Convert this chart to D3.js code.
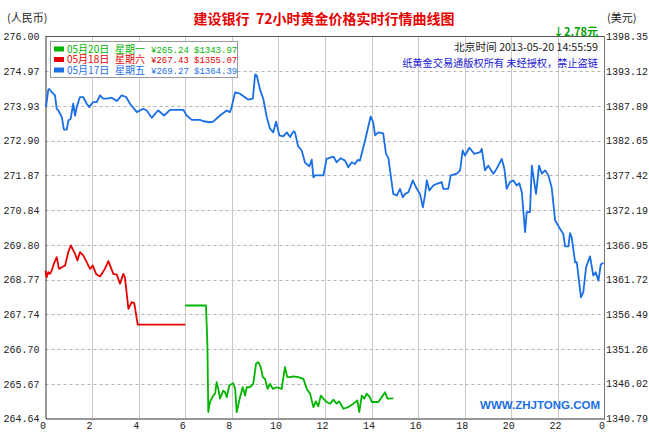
<!DOCTYPE html>
<html><head><meta charset="utf-8">
<script src="https://cdn.jsdelivr.net/npm/d3@7"></script>
<style>body{margin:0;background:#fff}svg{display:block}</style>
</head><body>
<svg id="c" width="649" height="434"></svg>
<script>
const leftTicks = [264.64,265.67,266.70,267.74,268.77,269.80,270.84,271.87,272.90,273.93,274.97,276.00];
const rightTicks = [1340.79,1346.02,1351.26,1356.49,1361.72,1366.95,1372.19,1377.42,1382.65,1387.89,1393.12,1398.35];
const hourTicks = [0,2,4,6,8,10,12,14,16,18,20,22,24];

const seriesDates = ["05月20日","05月18日","05月17日"];
const seriesDays = ["星期一","星期六","星期五"];
const seriesCny = [265.24,267.43,269.27];
const seriesUsd = [1343.97,1355.07,1364.39];
const seriesColors = ["#00b400","#e60000","#1a6ee6"];

const blueHours = [0.02,0.12,0.16,0.33,0.41,0.48,0.55,0.70,0.79,0.91,0.98,1.08,1.19,1.27,1.34,1.48,1.62,1.77,1.88,1.98,2.05,2.20,2.34,2.48,2.63,2.84,3.06,3.27,3.46,3.63,3.92,4.20,4.35,4.56,4.70,4.84,5.09,5.35,5.92,6.06,6.28,6.63,6.78,7.06,7.20,7.49,7.78,7.92,7.99,8.14,8.35,8.71,8.90,9.00,9.07,9.21,9.35,9.50,9.64,9.78,9.90,10.04,10.21,10.36,10.50,10.64,10.71,10.85,11.00,11.14,11.33,11.43,11.50,11.57,11.93,12.07,12.36,12.50,12.67,12.86,13.00,13.15,13.29,13.40,13.50,13.72,13.96,14.07,14.15,14.29,14.50,14.62,14.72,14.93,15.08,15.22,15.34,15.44,15.58,15.77,15.94,16.08,16.20,16.29,16.37,16.48,16.65,16.80,17.01,17.08,17.29,17.40,17.66,17.80,17.91,18.01,18.20,18.41,18.66,18.73,18.87,19.01,19.23,19.37,19.59,19.70,19.80,19.94,20.09,20.23,20.34,20.45,20.59,20.66,20.80,20.88,21.06,21.19,21.31,21.45,21.59,21.73,21.88,22.09,22.23,22.31,22.45,22.52,22.59,22.74,22.81,22.99,23.09,23.21,23.38,23.52,23.62,23.74,23.84,23.96];
const blueValues = [273.90,274.42,274.44,274.30,274.25,273.85,273.80,273.60,273.23,273.23,273.50,273.55,274.00,273.65,273.90,274.20,274.20,274.00,273.90,274.00,274.05,274.05,274.25,274.15,274.15,274.18,274.08,274.25,274.20,274.00,273.75,273.85,273.80,273.58,273.70,273.80,273.65,273.82,273.82,273.65,273.52,273.52,273.48,273.45,273.47,273.65,273.80,273.75,273.90,274.34,274.30,274.12,274.15,274.87,274.84,274.42,274.15,273.60,273.26,273.15,273.47,273.06,273.03,273.15,273.01,273.18,273.15,272.73,272.61,272.25,272.14,272.34,271.81,271.87,271.87,272.36,272.43,272.26,272.38,272.31,272.11,272.26,272.21,272.33,272.31,272.91,273.62,273.45,273.06,273.15,273.12,272.51,272.39,271.32,271.27,271.47,271.22,271.32,271.37,271.72,271.47,271.32,270.92,271.27,271.72,271.42,271.57,271.62,271.67,271.47,271.47,271.87,271.92,272.02,272.61,272.46,272.69,272.51,272.56,272.66,272.02,272.16,271.92,272.07,272.36,272.07,271.47,271.67,271.72,271.57,271.64,271.37,270.18,270.78,270.78,272.16,271.32,272.16,271.92,272.02,271.87,271.52,270.53,270.28,270.13,269.76,269.76,270.15,270.03,269.28,269.29,268.24,268.40,269.14,269.46,268.89,268.99,268.74,269.22,269.27];

const redHours = [0.00,0.05,0.12,0.19,0.27,0.36,0.48,0.58,0.70,0.84,0.98,1.09,1.19,1.27,1.37,1.48,1.62,1.77,1.91,2.03,2.17,2.34,2.55,2.70,2.80,2.91,3.06,3.20,3.34,3.41,3.56,3.70,3.81,3.96,6.00];
const redValues = [269.04,268.84,268.99,268.94,269.04,269.24,269.44,269.09,269.14,269.19,269.59,269.79,269.64,269.54,269.34,269.59,269.49,269.29,269.09,269.19,268.94,268.86,269.09,269.32,269.14,268.94,268.92,268.65,268.94,268.84,267.90,268.10,268.07,267.43,267.43];

const greenHours = [6.00,6.89,6.95,6.99,7.06,7.20,7.28,7.35,7.42,7.49,7.63,7.71,7.78,7.89,8.06,8.14,8.21,8.35,8.47,8.57,8.64,8.78,8.92,9.04,9.14,9.24,9.33,9.42,9.54,9.64,9.76,9.93,10.14,10.28,10.38,10.50,10.64,10.85,11.07,11.22,11.36,11.50,11.61,11.71,11.82,11.93,12.07,12.22,12.36,12.50,12.61,12.79,13.00,13.22,13.39,13.47,13.58,13.69,13.79,13.93,14.01,14.29,14.48,14.58,14.68,14.93];
const greenValues = [268.00,268.00,266.86,264.83,265.13,265.32,265.38,265.72,265.52,265.23,265.47,265.42,265.27,265.62,265.69,265.52,264.83,265.27,265.57,265.32,265.57,265.57,265.67,266.27,266.32,266.17,265.87,265.82,265.52,265.67,265.52,265.57,265.52,266.17,265.87,265.87,265.89,265.87,265.82,265.52,265.38,264.98,265.15,265.00,265.32,265.23,265.13,265.08,265.20,265.08,265.15,264.93,264.98,265.08,265.18,264.83,265.32,265.23,265.38,265.27,265.13,265.13,265.32,265.42,265.23,265.24];

const titleText = "建设银行  72小时黄金价格实时行情曲线图";
const changeText = "↓2.78元";
const timeText = "北京时间 2013-05-20 14:55:59";
const copyText = "纸黄金交易通版权所有 未经授权，禁止盗链";
const siteText = "WWW.ZHJTONG.COM";

const svg = d3.select("#c");
const L = 45.5, R = 604.5, T = 36.5, B = 418.5;
const x = d3.scaleLinear().domain([0,24]).range([L,R]);
const y = d3.scaleLinear().domain([264.64,276.00]).range([B,T]);
const y2 = d3.scaleLinear().domain([1340.79,1398.35]).range([B,T]);
const cjk = "'Noto Sans CJK SC', sans-serif";
const mono = "'Liberation Mono', 'DejaVu Sans Mono', monospace";

svg.append("rect").attr("width",649).attr("height",434).attr("fill","#fff");

// horizontal dashed grid
svg.append("g").selectAll("line").data(leftTicks.slice(1,-1)).join("line")
  .attr("x1",L).attr("x2",R).attr("y1",d=>Math.round(y(d))+0.5).attr("y2",d=>Math.round(y(d))+0.5)
  .attr("stroke","#b4b4b4").attr("stroke-dasharray","3,3");
// vertical grid
svg.append("g").selectAll("line").data(hourTicks.slice(1,-1)).join("line")
  .attr("x1",d=>Math.round(x(d))+0.5).attr("x2",d=>Math.round(x(d))+0.5).attr("y1",T).attr("y2",B)
  .attr("stroke","#c8c8c8");

// frame
svg.append("line").attr("x1",L).attr("x2",R).attr("y1",T).attr("y2",T).attr("stroke","#555");
svg.append("line").attr("x1",R).attr("x2",R).attr("y1",T).attr("y2",B).attr("stroke","#777");

// axes
const axL = svg.append("g").attr("transform",`translate(${L},0)`)
  .call(d3.axisLeft(y).tickValues(leftTicks).tickFormat(d3.format(".2f")).tickSize(0).tickPadding(6));
const axR = svg.append("g").attr("transform",`translate(${R},0)`)
  .call(d3.axisRight(y2).tickValues(rightTicks).tickFormat(d3.format(".2f")).tickSize(0).tickPadding(1.5));
const axB = svg.append("g").attr("transform",`translate(0,${B})`)
  .call(d3.axisBottom(x).tickValues(hourTicks).tickFormat(d=>d%24).tickSize(0).tickPadding(3));
axR.select(".domain").remove();
axL.select(".domain").attr("stroke","#333");
axB.select(".domain").attr("stroke","#333");
[axL,axR,axB].forEach(a=>a.selectAll("text").attr("font-family",mono).attr("font-size","10px").attr("fill","#222"));
axB.selectAll("text").attr("dx","-3");

// series
const line = d3.line().x(d=>x(d[0])).y(d=>y(d[1]));
const series = [[greenHours,greenValues],[redHours,redValues],[blueHours,blueValues]];
series.forEach((s,i)=>{
  svg.append("path").datum(d3.zip(s[0],s[1])).attr("d",line)
    .attr("fill","none").attr("stroke",seriesColors[i]).attr("stroke-width",1.8)
    .attr("stroke-linejoin","round");
});

// legend
const lg = svg.append("g");
lg.append("rect").attr("x",50.5).attr("y",41.5).attr("width",187).attr("height",36)
  .attr("fill","#fff").attr("stroke","#999");
seriesDates.forEach((d,i)=>{
  const cy = 49 + i*10.5;
  lg.append("rect").attr("x",54).attr("y",cy-2.5).attr("width",10).attr("height",5).attr("fill",seriesColors[i]);
  const g = lg.append("g").attr("fill",seriesColors[i]);
  g.append("text").attr("x",67).attr("y",cy+3.8).attr("font-family",cjk).attr("font-size","10px").text(d);
  g.append("text").attr("x",115).attr("y",cy+3.8).attr("font-family",cjk).attr("font-size","10px").text(seriesDays[i]);
  g.append("text").attr("x",151).attr("y",cy+3.5).attr("font-family",mono).attr("font-size","9px").text("¥"+seriesCny[i].toFixed(2));
  g.append("text").attr("x",194).attr("y",cy+3.5).attr("font-family",mono).attr("font-size","9px").text("$"+seriesUsd[i].toFixed(2));
});

// texts
svg.append("text").attr("x",7).attr("y",22).attr("font-family",cjk).attr("font-size","11px").attr("fill","#222").text("(人民币)");
svg.append("text").attr("x",607).attr("y",22).attr("font-family",cjk).attr("font-size","11px").attr("fill","#222").text("(美元)");
svg.append("text").attr("x",324).attr("y",24).attr("text-anchor","middle").attr("font-family",cjk)
  .attr("font-size","14px").attr("font-weight","bold").attr("fill","#e60000").attr("xml:space","preserve").text(titleText);
svg.append("text").attr("x",598).attr("y",36).attr("text-anchor","end").attr("font-family",cjk)
  .attr("font-size","11px").attr("font-weight","bold").attr("fill","#00a000").text(changeText);
svg.append("text").attr("x",598).attr("y",51).attr("text-anchor","end").attr("font-family",cjk)
  .attr("font-size","10.7px").attr("fill","#222").text(timeText);
svg.append("text").attr("x",598).attr("y",67).attr("text-anchor","end").attr("font-family",cjk)
  .attr("font-size","10.2px").attr("fill","#1a1ad0").text(copyText);
svg.append("text").attr("x",600).attr("y",409).attr("text-anchor","end").attr("font-family","'Liberation Sans', Arial, sans-serif")
  .attr("font-size","11.5px").attr("font-weight","bold").attr("fill","#1a6ee6").text(siteText);
</script>
</body></html>
